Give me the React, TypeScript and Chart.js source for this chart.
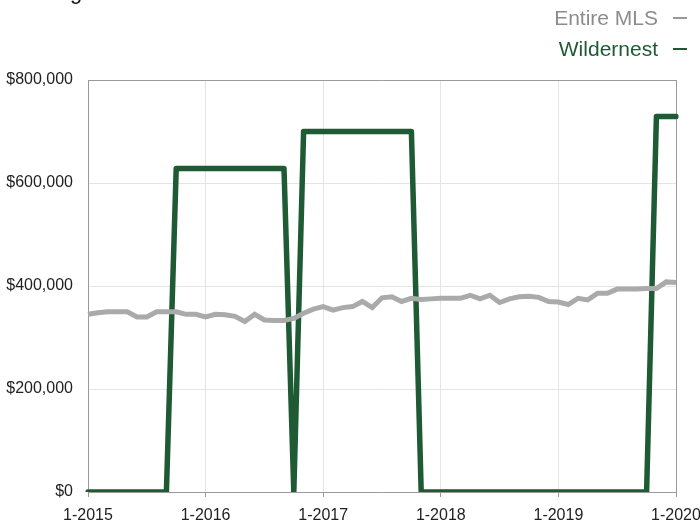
import React, { useEffect, useRef } from "react";
import { Chart, registerables } from "chart.js";

Chart.register(...registerables);

const YEARS = [2015, 2016, 2017, 2018, 2019];
const MONTH_LABELS: string[] = [];
for (const y of YEARS) for (let m = 1; m <= 12; m++) MONTH_LABELS.push(`${m}-${y}`);
MONTH_LABELS.push("1-2020");

const ENTIRE_MLS = [
  345000, 348000, 350000, 350000, 350000, 340000, 340000, 350000, 350000, 350000, 345000, 345000,
  340000, 345000, 344000, 341000, 331000, 345000, 334000, 333000, 333000, 337000, 347000, 355000,
  360000, 353000, 358000, 360000, 370000, 358000, 377000, 379000, 370000, 376000, 374000, 375000,
  376000, 376000, 376000, 382000, 375000, 382000, 368000, 375000, 379000, 380000, 378000, 370000,
  369000, 364000, 376000, 373000, 386000, 386000, 394000, 394000, 394000, 395000, 395000, 408000,
  407000,
];

const WILDERNEST = [
  0, 0, 0, 0, 0, 0, 0, 0, 0, 628000, 628000, 628000,
  628000, 628000, 628000, 628000, 628000, 628000, 628000, 628000, 628000, 0, 700000, 700000,
  700000, 700000, 700000, 700000, 700000, 700000, 700000, 700000, 700000, 700000, 0, 0,
  0, 0, 0, 0, 0, 0, 0, 0, 0, 0, 0, 0,
  0, 0, 0, 0, 0, 0, 0, 0, 0, 0, 729000, 729000,
  729000,
];

const GREEN = "#1e5a33";
const GRAY_LINE = "#aaaaaa";

export default function App() {
  const ref = useRef<HTMLCanvasElement | null>(null);

  useEffect(() => {
    document.body.style.margin = "0";
    const ctx = ref.current!.getContext("2d")!;
    const chart = new Chart(ctx, {
      type: "line",
      data: {
        labels: MONTH_LABELS,
        datasets: [
          {
            label: "Entire MLS",
            data: ENTIRE_MLS,
            borderColor: GRAY_LINE,
            borderWidth: 5,
            pointRadius: 0,
            tension: 0,
            fill: false,
          },
          {
            label: "Wildernest",
            data: WILDERNEST,
            borderColor: GREEN,
            borderWidth: 5.5,
            pointRadius: 0,
            tension: 0,
            fill: false,
            borderCapStyle: "round",
            borderJoinStyle: "round",
          },
        ],
      },
      options: {
        responsive: false,
        animation: false,
        layout: { padding: { left: 0, right: 24, top: 80, bottom: 0 } },
        plugins: {
          legend: { display: false },
          tooltip: { enabled: false },
          title: { display: false },
        },
        scales: {
          x: {
            type: "category",
            offset: false,
            afterFit: (s: any) => {
              s.height = 29;
              s.paddingLeft = 0;
              s.paddingRight = 0;
            },
            grid: {
              color: (c: any) =>
                c.index === 60 ? "#9a9a9a" : c.index % 12 === 0 ? "#e4e4e4" : "rgba(0,0,0,0)",
              tickColor: (c: any) => (c.index % 12 === 0 ? "#9a9a9a" : "rgba(0,0,0,0)"),
              tickLength: 5,
              drawTicks: true,
            },
            border: { color: "#9a9a9a", width: 1 },
            ticks: {
              autoSkip: false,
              maxRotation: 0,
              minRotation: 0,
              padding: 9,
              color: "#222",
              font: { family: "'Liberation Sans', Arial, sans-serif", size: 16 },
              callback: (_v: any, i: number) => (i % 12 === 0 ? MONTH_LABELS[i] : ""),
            },
          },
          y: {
            min: 0,
            max: 800000,
            afterFit: (s: any) => {
              s.width = 88;
              s.paddingTop = 0;
              s.paddingBottom = 0;
            },
            grid: {
              color: (c: any) => (c.tick && c.tick.value === 800000 ? "#9a9a9a" : "#e4e4e4"),
              drawTicks: false,
            },
            border: { color: "#9a9a9a", width: 1 },
            ticks: {
              stepSize: 200000,
              padding: 15,
              color: "#222",
              font: { family: "'Liberation Sans', Arial, sans-serif", size: 16 },
              callback: (v: any) => "$" + Number(v).toLocaleString("en-US"),
            },
          },
        },
      },
    });
    return () => chart.destroy();
  }, []);

  const font = "'Liberation Sans', Arial, sans-serif";

  return (
    <div
      style={{
        position: "fixed",
        left: 0,
        top: 0,
        width: 700,
        height: 521,
        overflow: "hidden",
        background: "#fff",
        fontFamily: font,
      }}
    >
      <canvas ref={ref} width={700} height={521} style={{ position: "absolute", left: 0, top: 0 }} />
      <div
        style={{
          position: "absolute",
          left: 13,
          top: -19,
          fontSize: 22,
          lineHeight: "22px",
          color: "#111",
          whiteSpace: "nowrap",
        }}
      >
        Average Sales Price Over Time
      </div>
      <div
        style={{
          position: "absolute",
          right: 13,
          top: 2,
          fontSize: 21,
          lineHeight: "31px",
          textAlign: "right",
          whiteSpace: "nowrap",
        }}
      >
        <div style={{ color: "#8c8c8c" }}>
          Entire MLS
          <span
            style={{
              display: "inline-block",
              width: 14,
              height: 2,
              marginLeft: 15,
              background: "#999",
              verticalAlign: "6px",
            }}
          />
        </div>
        <div style={{ color: GREEN }}>
          Wildernest
          <span
            style={{
              display: "inline-block",
              width: 14,
              height: 2,
              marginLeft: 15,
              background: GREEN,
              verticalAlign: "6px",
            }}
          />
        </div>
      </div>
    </div>
  );
}
